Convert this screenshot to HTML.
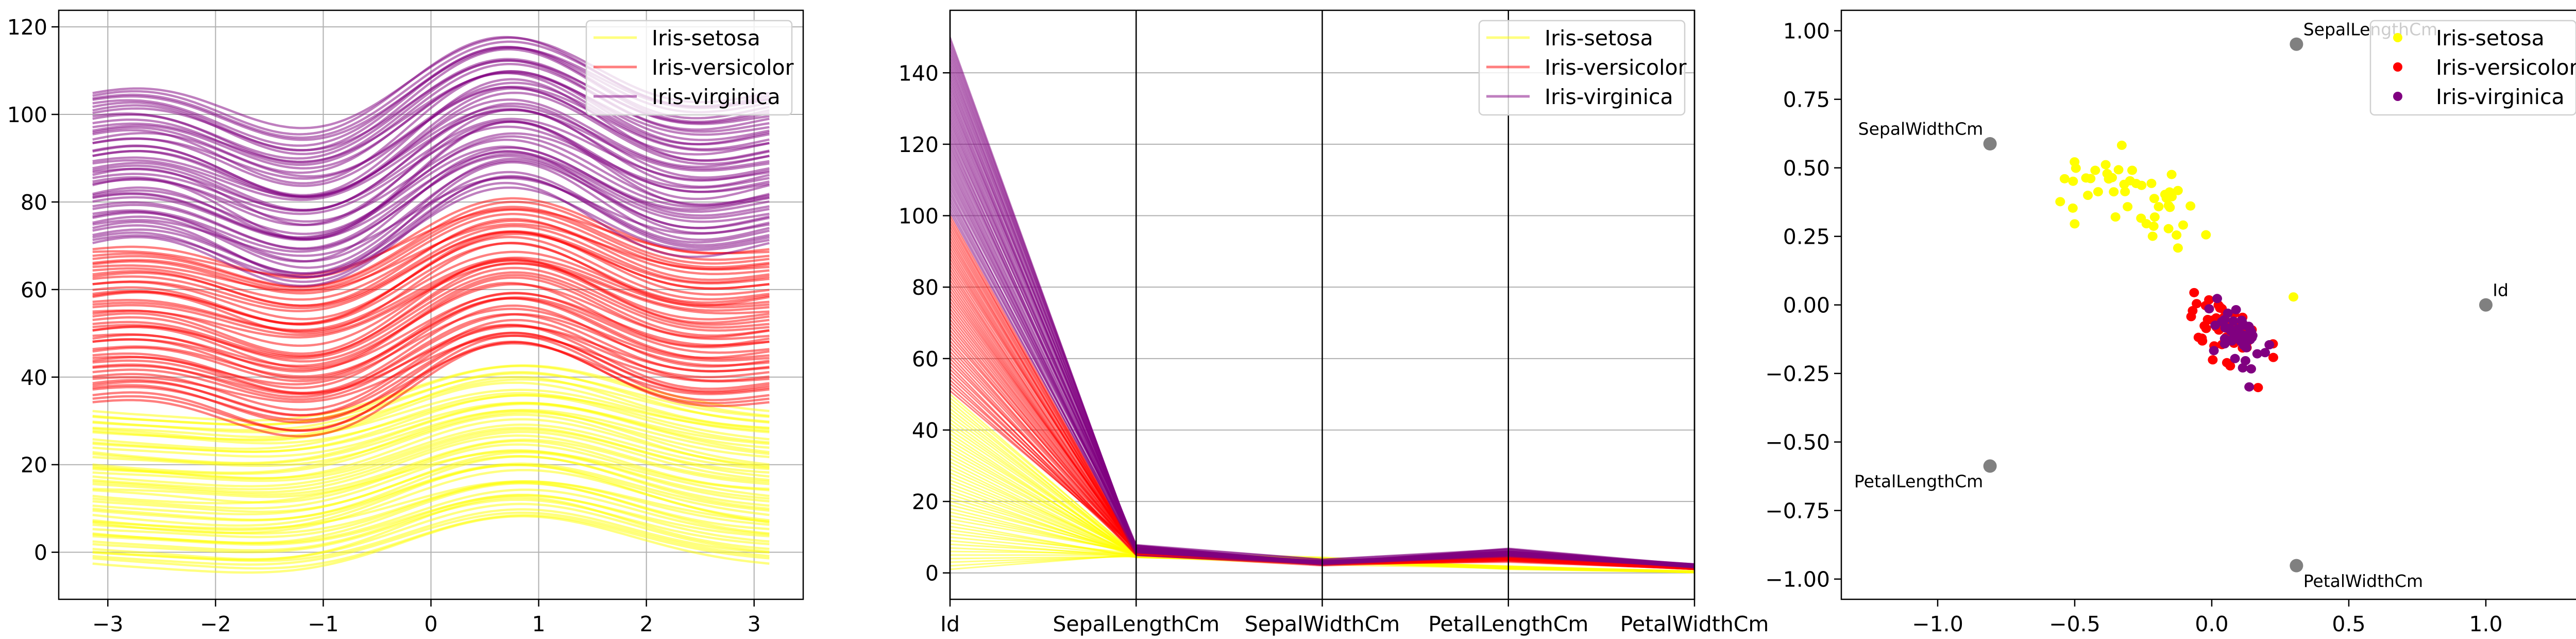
<!DOCTYPE html>
<html><head><meta charset="utf-8"><style>
html,body{margin:0;padding:0;background:#fff}
svg{display:block;font-family:"DejaVu Sans","Liberation Sans",sans-serif}
</style></head><body>
<svg id="fig" width="5040" height="1240" viewBox="0 0 5040 1240" xmlns="http://www.w3.org/2000/svg">
<rect width="5040" height="1240" fill="#fff"/>
<g id="p1"></g>
<g id="p2"></g>
<g id="p3"></g>
</svg>
<script>
const sepalLength=[5.1,4.9,4.7,4.6,5.0,5.4,4.6,5.0,4.4,4.9,5.4,4.8,4.8,4.3,5.8,5.7,5.4,5.1,5.7,5.1,5.4,5.1,4.6,5.1,4.8,5.0,5.0,5.2,5.2,4.7,4.8,5.4,5.2,5.5,4.9,5.0,5.5,4.9,4.4,5.1,5.0,4.5,4.4,5.0,5.1,4.8,5.1,4.6,5.3,5.0,
7.0,6.4,6.9,5.5,6.5,5.7,6.3,4.9,6.6,5.2,5.0,5.9,6.0,6.1,5.6,6.7,5.6,5.8,6.2,5.6,5.9,6.1,6.3,6.1,6.4,6.6,6.8,6.7,6.0,5.7,5.5,5.5,5.8,6.0,5.4,6.0,6.7,6.3,5.6,5.5,5.5,6.1,5.8,5.0,5.6,5.7,5.7,6.2,5.1,5.7,
6.3,5.8,7.1,6.3,6.5,7.6,4.9,7.3,6.7,7.2,6.5,6.4,6.8,5.7,5.8,6.4,6.5,7.7,7.7,6.0,6.9,5.6,7.7,6.3,6.7,7.2,6.2,6.1,6.4,7.2,7.4,7.9,6.4,6.3,6.1,7.7,6.3,6.4,6.0,6.9,6.7,6.9,5.8,6.8,6.7,6.7,6.3,6.5,6.2,5.9];
const sepalWidth=[3.5,3.0,3.2,3.1,3.6,3.9,3.4,3.4,2.9,3.1,3.7,3.4,3.0,3.0,4.0,4.4,3.9,3.5,3.8,3.8,3.4,3.7,3.6,3.3,3.4,3.0,3.4,3.5,3.4,3.2,3.1,3.4,4.1,4.2,3.1,3.2,3.5,3.1,3.0,3.4,3.5,2.3,3.2,3.5,3.8,3.0,3.8,3.2,3.7,3.3,
3.2,3.2,3.1,2.3,2.8,2.8,3.3,2.4,2.9,2.7,2.0,3.0,2.2,2.9,2.9,3.1,3.0,2.7,2.2,2.5,3.2,2.8,2.5,2.8,2.9,3.0,2.8,3.0,2.9,2.6,2.4,2.4,2.7,2.7,3.0,3.4,3.1,2.3,3.0,2.5,2.6,3.0,2.6,2.3,2.7,3.0,2.9,2.9,2.5,2.8,
3.3,2.7,3.0,2.9,3.0,3.0,2.5,2.9,2.5,3.6,3.2,2.7,3.0,2.5,2.8,3.2,3.0,3.8,2.6,2.2,3.2,2.8,2.8,2.7,3.3,3.2,2.8,3.0,2.8,3.0,2.8,3.8,2.8,2.8,2.6,3.0,3.4,3.1,3.0,3.1,3.1,3.1,2.7,3.2,3.3,3.0,2.5,3.0,3.4,3.0];
const petalLength=[1.4,1.4,1.3,1.5,1.4,1.7,1.4,1.5,1.4,1.5,1.5,1.6,1.4,1.1,1.2,1.5,1.3,1.4,1.7,1.5,1.7,1.5,1.0,1.7,1.9,1.6,1.6,1.5,1.4,1.6,1.6,1.5,1.5,1.4,1.5,1.2,1.3,1.5,1.3,1.5,1.3,1.3,1.3,1.6,1.9,1.4,1.6,1.4,1.5,1.4,
4.7,4.5,4.9,4.0,4.6,4.5,4.7,3.3,4.6,3.9,3.5,4.2,4.0,4.7,3.6,4.4,4.5,4.1,4.5,3.9,4.8,4.0,4.9,4.7,4.3,4.4,4.8,5.0,4.5,3.5,3.8,3.7,3.9,5.1,4.5,4.5,4.7,4.4,4.1,4.0,4.4,4.6,4.0,3.3,4.2,4.2,4.2,4.3,3.0,4.1,
6.0,5.1,5.9,5.6,5.8,6.6,4.5,6.3,5.8,6.1,5.1,5.3,5.5,5.0,5.1,5.3,5.5,6.7,6.9,5.0,5.7,4.9,6.7,4.9,5.7,6.0,4.8,4.9,5.6,5.8,6.1,6.4,5.6,5.1,5.6,6.1,5.6,5.5,4.8,5.4,5.6,5.1,5.1,5.9,5.7,5.2,5.0,5.2,5.4,5.1];
const petalWidth=[0.2,0.2,0.2,0.2,0.2,0.4,0.3,0.2,0.2,0.1,0.2,0.2,0.1,0.1,0.2,0.4,0.4,0.3,0.3,0.3,0.2,0.4,0.2,0.5,0.2,0.2,0.4,0.2,0.2,0.2,0.2,0.4,0.1,0.2,0.1,0.2,0.2,0.1,0.2,0.2,0.3,0.3,0.2,0.6,0.4,0.3,0.2,0.2,0.2,0.2,
1.4,1.5,1.5,1.3,1.5,1.3,1.6,1.0,1.3,1.4,1.0,1.5,1.0,1.4,1.3,1.4,1.5,1.0,1.5,1.1,1.8,1.3,1.5,1.2,1.3,1.4,1.4,1.7,1.5,1.0,1.1,1.0,1.2,1.6,1.5,1.6,1.5,1.3,1.3,1.3,1.2,1.4,1.2,1.0,1.3,1.2,1.3,1.3,1.1,1.3,
2.5,1.9,2.1,1.8,2.2,2.1,1.7,1.8,1.8,2.5,2.0,1.9,2.1,2.0,2.4,2.3,1.8,2.2,2.3,1.5,2.3,2.0,2.0,1.8,2.1,1.8,1.8,1.8,2.1,1.6,1.9,2.0,2.2,1.5,1.4,2.3,2.4,1.8,1.8,2.1,2.4,2.3,1.9,2.3,2.5,2.3,1.9,2.0,2.3,1.8];
const speciesNames=["Iris-setosa","Iris-versicolor","Iris-virginica"];
const speciesCounts=[50,50,50];
const featureNames=["Id","SepalLengthCm","SepalWidthCm","PetalLengthCm","PetalWidthCm"];
const andrewsXTicks=[-3,-2,-1,0,1,2,3];
const andrewsYTicks=[0,20,40,60,80,100,120];
const parallelYTicks=[0,20,40,60,80,100,120,140];
const radvizXTicks=[-1.0,-0.5,0.0,0.5,1.0];
const radvizYTicks=[-1.00,-0.75,-0.50,-0.25,0.00,0.25,0.50,0.75,1.00];

const ids=[]; const species=[];
{let k=0;speciesCounts.forEach((c,s)=>{for(let i=0;i<c;i++){ids.push(k+1);species.push(s);k++;}});}
const N=ids.length;
const rows=ids.map((d,i)=>[d,sepalLength[i],sepalWidth[i],petalLength[i],petalWidth[i]]);
const COLORS=["#ffff00","#ff0000","#800080"];
const NS="http://www.w3.org/2000/svg";
function mk(parent,tag,attrs,text){const e=document.createElementNS(NS,tag);for(const k in attrs)e.setAttribute(k,attrs[k]);if(text!==undefined)e.textContent=text;parent.appendChild(e);return e;}
const TOP=20,BOT=1163,FS=41;

function frame(g,L,R){const r=mk(g,'rect',{x:L,y:TOP,width:R-L,height:BOT-TOP,fill:'none',stroke:'#000','stroke-width':2.5});

}
function xtick(g,x,label,name){const l=mk(g,'line',{x1:x,x2:x,y1:BOT,y2:BOT+14,stroke:'#000','stroke-width':2.5});


const t=mk(g,'text',{x:x,y:1225,'font-size':FS,'text-anchor':'middle',fill:'#000'},label);

}
function ytick(g,L,y,label,name){const l=mk(g,'line',{x1:L-14,x2:L,y1:y,y2:y,stroke:'#000','stroke-width':2.5});


const t=mk(g,'text',{x:L-22,y:y+15,'font-size':FS,'text-anchor':'end',fill:'#000'},label);

}
function fmt(v){return (v<0?'\u2212':'')+Math.abs(v);}
function legend(g,x0,kind){
  const box=mk(g,'rect',{x:x0,y:40,width:399,height:183,rx:8,fill:'#fff','fill-opacity':0.8,stroke:'#d0d0d0','stroke-width':2.5});
  
  
  speciesNames.forEach((nm,s)=>{const y=73+57*s;
    const eg=mk(g,'g',{});
    
    
    if(kind==='line'){mk(eg,'line',{x1:x0+14,x2:x0+98,y1:y,y2:y,stroke:COLORS[s],'stroke-width':5,'stroke-opacity':0.5});}
    else{mk(eg,'ellipse',{cx:x0+53,cy:y,rx:9,ry:9,fill:COLORS[s]});}
    mk(eg,'text',{x:x0+127,y:y+15,'font-size':FS,fill:'#000'},nm);
  });
}

// ---------- Panel 1: Andrews curves ----------
(function(){
  const g=document.getElementById('p1');
  const L=114,R=1559;
  const T=[];for(let i=0;i<200;i++)T.push(-Math.PI+2*Math.PI*i/199);
  const curves=rows.map(r=>T.map(t=>r[0]/Math.SQRT2+r[1]*Math.sin(t)+r[2]*Math.cos(t)+r[3]*Math.sin(2*t)+r[4]*Math.cos(2*t)));
  let mn=Infinity,mx=-Infinity;curves.forEach(c=>c.forEach(v=>{if(v<mn)mn=v;if(v>mx)mx=v;}));
  const ym0=mn-0.05*(mx-mn),ym1=mx+0.05*(mx-mn);
  const xm0=-Math.PI*1.1,xm1=Math.PI*1.1;
  const X=v=>L+(v-xm0)/(xm1-xm0)*(R-L);
  const Y=v=>BOT-(v-ym0)/(ym1-ym0)*(BOT-TOP);
  andrewsXTicks.forEach(v=>{const l=mk(g,'line',{x1:X(v),x2:X(v),y1:TOP,y2:BOT,stroke:'#b0b0b0','stroke-width':2});
    
    });
  andrewsYTicks.forEach(v=>{const l=mk(g,'line',{x1:L,x2:R,y1:Y(v),y2:Y(v),stroke:'#b0b0b0','stroke-width':2});
    
    });
  curves.forEach((c,i)=>{
    const p=mk(g,'polyline',{points:c.map((v,j)=>X(T[j]).toFixed(1)+','+Y(v).toFixed(1)).join(' '),fill:'none',stroke:COLORS[species[i]],'stroke-width':4.5,'stroke-opacity':0.5});
    
    
  });
  frame(g,L,R);
  andrewsXTicks.forEach(v=>xtick(g,X(v),fmt(v),'x-tick-label'));
  andrewsYTicks.forEach(v=>ytick(g,L,Y(v),fmt(v),'y-tick-label'));
  legend(g,1138,'line');
})();

// ---------- Panel 2: Parallel coordinates ----------
(function(){
  const g=document.getElementById('p2');
  const L=1844,R=3289;
  let mn=Infinity,mx=-Infinity;rows.forEach(r=>r.forEach(v=>{if(v<mn)mn=v;if(v>mx)mx=v;}));
  const ym0=mn-0.05*(mx-mn),ym1=mx+0.05*(mx-mn);
  const X=k=>L+k/(featureNames.length-1)*(R-L);
  const Y=v=>BOT-(v-ym0)/(ym1-ym0)*(BOT-TOP);
  parallelYTicks.forEach(v=>{const l=mk(g,'line',{x1:L,x2:R,y1:Y(v),y2:Y(v),stroke:'#b0b0b0','stroke-width':2});
    
    });
  rows.forEach((r,i)=>{
    const p=mk(g,'polyline',{points:r.map((v,k)=>X(k).toFixed(1)+','+Y(v).toFixed(1)).join(' '),fill:'none',stroke:COLORS[species[i]],'stroke-width':3,'stroke-opacity':0.5});
    
    
  });
  featureNames.forEach((f,k)=>{const l=mk(g,'line',{x1:X(k),x2:X(k),y1:TOP,y2:BOT,stroke:'#000','stroke-width':2.5});
    
    });
  frame(g,L,R);
  featureNames.forEach((f,k)=>xtick(g,X(k),f,'x-tick-label'));
  parallelYTicks.forEach(v=>ytick(g,L,Y(v),fmt(v),'y-tick-label'));
  legend(g,2871,'line');
})();

// ---------- Panel 3: RadViz ----------
(function(){
  const g=document.getElementById('p3');
  const L=3574,R=5019,CX=4293,CY=591.7,S=532;
  const X=v=>CX+v*S, Y=v=>CY-v*S;
  const m=featureNames.length;
  const mins=[],maxs=[];
  for(let k=0;k<m;k++){mins.push(Math.min(...rows.map(r=>r[k])));maxs.push(Math.max(...rows.map(r=>r[k])));}
  const anchors=featureNames.map((f,k)=>[Math.cos(2*Math.PI*k/m),Math.sin(2*Math.PI*k/m)]);
  rows.forEach((r,i)=>{
    const nv=r.map((v,k)=>(v-mins[k])/(maxs[k]-mins[k]));
    const sum=nv.reduce((a,b)=>a+b,0);
    let px=0,py=0;nv.forEach((v,k)=>{px+=v*anchors[k][0];py+=v*anchors[k][1];});
    px/=sum;py/=sum;
    const c=mk(g,'ellipse',{cx:X(px),cy:Y(py),rx:9.5,ry:9,fill:COLORS[species[i]]});
    
    
  });
  anchors.forEach((a,k)=>{
    const c=mk(g,'ellipse',{cx:X(a[0]),cy:Y(a[1]),rx:13,ry:13,fill:'#808080'});
    
    
    let tx,ty,anc;
    if(a[0]<0&&a[1]<0){tx=X(a[0]-0.025);ty=Y(a[1]-0.025)+28;anc='end';}
    else if(a[0]<0){tx=X(a[0]-0.025);ty=Y(a[1]+0.025)-4;anc='end';}
    else if(a[1]<-0.01){tx=X(a[0]+0.025);ty=Y(a[1]-0.025)+28;anc='start';}
    else{tx=X(a[0]+0.025);ty=Y(a[1]+0.025)-4;anc='start';}
    const t=mk(g,'text',{x:tx,y:ty,'font-size':33,'text-anchor':anc,fill:'#000'},featureNames[k]);
    
    
  });
  frame(g,L,R);
  radvizXTicks.forEach(v=>xtick(g,X(v),(v<0?'\u2212':'')+Math.abs(v).toFixed(1),'x-tick-label'));
  radvizYTicks.forEach(v=>ytick(g,L,Y(v),(v<0?'\u2212':'')+Math.abs(v).toFixed(2),'y-tick-label'));
  legend(g,4601,'dot');
})();
</script>
</body></html>
